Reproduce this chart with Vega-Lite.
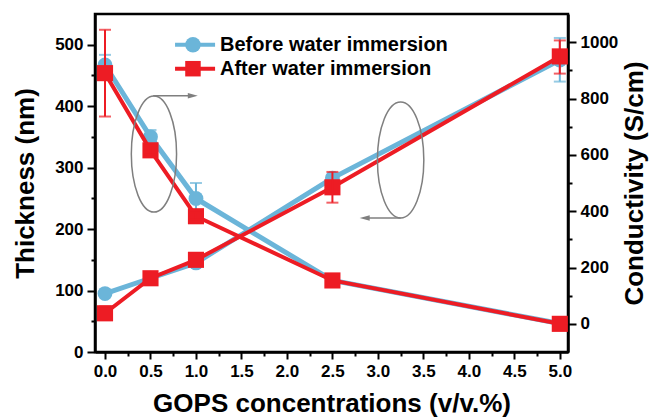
{
  "$schema": "https://vega.github.io/schema/vega-lite/v6.json",
  "width": 473,
  "height": 338,
  "autosize": {"type": "none"},
  "padding": {"left": 95, "top": 14, "right": 82, "bottom": 65},
  "background": "white",
  "config": {
    "view": {"stroke": "black", "strokeWidth": 2.5},
    "axis": {
      "grid": false,
      "domainColor": "black",
      "domainWidth": 2.5,
      "tickColor": "black",
      "tickWidth": 2,
      "labelFont": "Liberation Sans",
      "labelFontWeight": "bold",
      "labelFontSize": 17,
      "labelColor": "black",
      "titleFont": "Liberation Sans",
      "titleFontWeight": "bold",
      "titleFontSize": 26,
      "titleColor": "black"
    }
  },
  "data": {
    "values": [
      {"q": "T", "s": "B", "x": 0, "v": 95, "lo": null, "hi": null},
      {"q": "T", "s": "B", "x": 0.5, "v": 120, "lo": null, "hi": null},
      {"q": "T", "s": "B", "x": 1, "v": 145, "lo": null, "hi": null},
      {"q": "T", "s": "B", "x": 2.5, "v": 283, "lo": null, "hi": null},
      {"q": "T", "s": "B", "x": 5, "v": 475, "lo": 440, "hi": 511},
      {"q": "T", "s": "A", "x": 0, "v": 63, "lo": 52, "hi": 74},
      {"q": "T", "s": "A", "x": 0.5, "v": 120, "lo": null, "hi": null},
      {"q": "T", "s": "A", "x": 1, "v": 150, "lo": null, "hi": null},
      {"q": "T", "s": "A", "x": 2.5, "v": 268, "lo": 243, "hi": 293},
      {"q": "T", "s": "A", "x": 5, "v": 481, "lo": 453, "hi": 507},
      {"q": "C", "s": "B", "x": 0, "v": 919, "lo": 883, "hi": 955},
      {"q": "C", "s": "B", "x": 0.5, "v": 664, "lo": 640, "hi": 688},
      {"q": "C", "s": "B", "x": 1, "v": 445, "lo": 390, "hi": 500},
      {"q": "C", "s": "B", "x": 2.5, "v": 154, "lo": null, "hi": null},
      {"q": "C", "s": "B", "x": 5, "v": 1, "lo": null, "hi": null},
      {"q": "C", "s": "A", "x": 0, "v": 890, "lo": 736, "hi": 1044},
      {"q": "C", "s": "A", "x": 0.5, "v": 616, "lo": 600, "hi": 632},
      {"q": "C", "s": "A", "x": 1, "v": 382, "lo": 370, "hi": 394},
      {"q": "C", "s": "A", "x": 2.5, "v": 154, "lo": null, "hi": null},
      {"q": "C", "s": "A", "x": 5, "v": 0, "lo": null, "hi": null}
    ]
  },
  "encoding": {
    "x": {
      "field": "x",
      "type": "quantitative",
      "scale": {"domain": [-0.11, 5.09]},
      "axis": {
        "title": "GOPS concentrations (v/v.%)",
        "values": [0, 0.25, 0.5, 0.75, 1, 1.25, 1.5, 1.75, 2, 2.25, 2.5, 2.75, 3, 3.25, 3.5, 3.75, 4, 4.25, 4.5, 4.75, 5],
        "labelExpr": "(datum.value * 2) % 1 === 0 ? format(datum.value, '.1f') : ''",
        "tickSize": {"condition": {"test": "(datum.value * 2) % 1 === 0", "value": 7}, "value": 4},
        "labelPadding": 4,
        "labelFlush": false,
        "labelOverlap": false,
        "titlePadding": 11
      }
    }
  },
  "layer": [
    {
      "transform": [{"filter": "datum.q === 'T' && datum.s === 'B' && datum.lo != null"}],
      "mark": {"type": "rule", "color": "#6BB5D9", "strokeWidth": 2},
      "encoding": {
        "y": {"field": "lo", "type": "quantitative", "scale": {"domain": [0, 550]}, "axis": null},
        "y2": {"field": "hi"}
      }
    },
    {
      "transform": [{"filter": "datum.q === 'T' && datum.s === 'B' && datum.lo != null"}, {"fold": ["lo", "hi"], "as": ["k", "e"]}],
      "mark": {"type": "tick", "orient": "horizontal", "color": "#6BB5D9", "thickness": 2, "size": 12},
      "encoding": {
        "y": {"field": "e", "type": "quantitative", "scale": {"domain": [0, 550]}, "axis": null}
      }
    },
    {
      "transform": [{"filter": "datum.q === 'T' && datum.s === 'B'"}],
      "mark": {"type": "line", "color": "#6BB5D9", "strokeWidth": 5},
      "encoding": {
        "y": {
          "field": "v",
          "type": "quantitative",
          "scale": {"domain": [0, 550]},
          "axis": {
            "orient": "left",
            "title": "Thickness (nm)",
            "values": [0, 50, 100, 150, 200, 250, 300, 350, 400, 450, 500],
            "labelExpr": "datum.value % 100 === 0 ? datum.label : ''",
            "tickSize": {"condition": {"test": "datum.value % 100 === 0", "value": 8}, "value": 4},
            "labelPadding": 4,
            "titlePadding": 16
          }
        }
      }
    },
    {
      "transform": [{"filter": "datum.q === 'T' && datum.s === 'B'"}],
      "mark": {"type": "point", "shape": "circle", "filled": true, "opacity": 1, "color": "#6BB5D9", "size": 220},
      "encoding": {
        "y": {"field": "v", "type": "quantitative", "scale": {"domain": [0, 550]}, "axis": null}
      }
    },
    {
      "transform": [{"filter": "datum.q === 'C' && datum.s === 'B' && datum.lo != null"}],
      "mark": {"type": "rule", "color": "#6BB5D9", "strokeWidth": 2},
      "encoding": {
        "y": {"field": "lo", "type": "quantitative", "scale": {"domain": [-100, 1100]}, "axis": null},
        "y2": {"field": "hi"}
      }
    },
    {
      "transform": [{"filter": "datum.q === 'C' && datum.s === 'B' && datum.lo != null"}, {"fold": ["lo", "hi"], "as": ["k", "e"]}],
      "mark": {"type": "tick", "orient": "horizontal", "color": "#6BB5D9", "thickness": 2, "size": 12},
      "encoding": {
        "y": {"field": "e", "type": "quantitative", "scale": {"domain": [-100, 1100]}, "axis": null}
      }
    },
    {
      "transform": [{"filter": "datum.q === 'C' && datum.s === 'B'"}],
      "mark": {"type": "line", "color": "#6BB5D9", "strokeWidth": 5},
      "encoding": {
        "y": {
          "field": "v",
          "type": "quantitative",
          "scale": {"domain": [-100, 1100]},
          "axis": {
            "orient": "right",
            "title": "Conductivity (S/cm)",
            "titleAngle": 270,
            "titleBaseline": "top",
            "format": "d",
            "values": [0, 100, 200, 300, 400, 500, 600, 700, 800, 900, 1000],
            "labelExpr": "datum.value % 200 === 0 ? datum.label : ''",
            "tickSize": {"condition": {"test": "datum.value % 200 === 0", "value": 8}, "value": 4},
            "labelPadding": 4,
            "titlePadding": 4
          }
        }
      }
    },
    {
      "transform": [{"filter": "datum.q === 'C' && datum.s === 'B'"}],
      "mark": {"type": "point", "shape": "circle", "filled": true, "opacity": 1, "color": "#6BB5D9", "size": 220},
      "encoding": {
        "y": {"field": "v", "type": "quantitative", "scale": {"domain": [-100, 1100]}, "axis": null}
      }
    },
    {
      "transform": [{"filter": "datum.q === 'T' && datum.s === 'A'"}],
      "mark": {"type": "line", "color": "#ED1C24", "strokeWidth": 4},
      "encoding": {
        "y": {"field": "v", "type": "quantitative", "scale": {"domain": [0, 550]}, "axis": null}
      }
    },
    {
      "transform": [{"filter": "datum.q === 'T' && datum.s === 'A'"}],
      "mark": {"type": "point", "shape": "square", "filled": true, "opacity": 1, "color": "#ED1C24", "size": 260},
      "encoding": {
        "y": {"field": "v", "type": "quantitative", "scale": {"domain": [0, 550]}, "axis": null}
      }
    },
    {
      "transform": [{"filter": "datum.q === 'T' && datum.s === 'A' && datum.lo != null"}],
      "mark": {"type": "rule", "color": "#ED1C24", "strokeWidth": 2},
      "encoding": {
        "y": {"field": "lo", "type": "quantitative", "scale": {"domain": [0, 550]}, "axis": null},
        "y2": {"field": "hi"}
      }
    },
    {
      "transform": [{"filter": "datum.q === 'T' && datum.s === 'A' && datum.lo != null"}, {"fold": ["lo", "hi"], "as": ["k", "e"]}],
      "mark": {"type": "tick", "orient": "horizontal", "color": "#ED1C24", "thickness": 2, "size": 12},
      "encoding": {
        "y": {"field": "e", "type": "quantitative", "scale": {"domain": [0, 550]}, "axis": null}
      }
    },
    {
      "transform": [{"filter": "datum.q === 'C' && datum.s === 'A'"}],
      "mark": {"type": "line", "color": "#ED1C24", "strokeWidth": 4},
      "encoding": {
        "y": {"field": "v", "type": "quantitative", "scale": {"domain": [-100, 1100]}, "axis": null}
      }
    },
    {
      "transform": [{"filter": "datum.q === 'C' && datum.s === 'A'"}],
      "mark": {"type": "point", "shape": "square", "filled": true, "opacity": 1, "color": "#ED1C24", "size": 260},
      "encoding": {
        "y": {"field": "v", "type": "quantitative", "scale": {"domain": [-100, 1100]}, "axis": null}
      }
    },
    {
      "transform": [{"filter": "datum.q === 'C' && datum.s === 'A' && datum.lo != null"}],
      "mark": {"type": "rule", "color": "#ED1C24", "strokeWidth": 2},
      "encoding": {
        "y": {"field": "lo", "type": "quantitative", "scale": {"domain": [-100, 1100]}, "axis": null},
        "y2": {"field": "hi"}
      }
    },
    {
      "transform": [{"filter": "datum.q === 'C' && datum.s === 'A' && datum.lo != null"}, {"fold": ["lo", "hi"], "as": ["k", "e"]}],
      "mark": {"type": "tick", "orient": "horizontal", "color": "#ED1C24", "thickness": 2, "size": 12},
      "encoding": {
        "y": {"field": "e", "type": "quantitative", "scale": {"domain": [-100, 1100]}, "axis": null}
      }
    },
    {
      "data": {"values": [{"x": 0.538, "v": 322, "w": "a"}, {"x": 3.25, "v": 312.5, "w": "b"}]},
      "mark": {"type": "point", "filled": false, "stroke": "#7F7F7F", "strokeWidth": 1.5, "opacity": 1, "size": 13456},
      "encoding": {
        "y": {"field": "v", "type": "quantitative", "scale": {"domain": [0, 550]}, "axis": null},
        "shape": {"field": "w", "type": "nominal", "scale": {"domain": ["a", "b"], "range": ["M0,-1A0.39,1,0,1,1,0,1A0.39,1,0,1,1,0,-1Z", "M0,-1A0.4,1,0,1,1,0,1A0.4,1,0,1,1,0,-1Z"]}, "legend": null}
      }
    },
    {
      "data": {"values": [{"x": 0.53, "x2": 0.965, "v": 417}, {"x": 3.25, "x2": 2.855, "v": 218}]},
      "mark": {"type": "rule", "color": "#7F7F7F", "strokeWidth": 1.5},
      "encoding": {
        "x2": {"field": "x2"},
        "y": {"field": "v", "type": "quantitative", "scale": {"domain": [0, 550]}, "axis": null}
      }
    },
    {
      "data": {"values": [{"x": 0.965, "v": 417, "dir": "r"}, {"x": 2.855, "v": 218, "dir": "l"}]},
      "mark": {"type": "point", "filled": true, "color": "#7F7F7F", "opacity": 1, "size": 100},
      "encoding": {
        "y": {"field": "v", "type": "quantitative", "scale": {"domain": [0, 550]}, "axis": null},
        "shape": {"field": "dir", "type": "nominal", "scale": {"domain": ["r", "l"], "range": ["M1,0L-1,-0.55L-1,0.55Z", "M-1,0L1,-0.55L1,0.55Z"]}, "legend": null}
      }
    },
    {
      "data": {"values": [{"x": 0.77, "x2": 1.21, "v": 500, "s": "B"}, {"x": 0.77, "x2": 1.21, "v": 461, "s": "A"}]},
      "mark": {"type": "rule", "strokeWidth": 4},
      "encoding": {
        "x2": {"field": "x2"},
        "y": {"field": "v", "type": "quantitative", "scale": {"domain": [0, 550]}, "axis": null},
        "color": {"field": "s", "type": "nominal", "scale": {"domain": ["B", "A"], "range": ["#6BB5D9", "#ED1C24"]}, "legend": null}
      }
    },
    {
      "data": {"values": [{"x": 0.967, "v": 500, "s": "B"}, {"x": 0.967, "v": 461, "s": "A"}]},
      "mark": {"type": "point", "filled": true, "opacity": 1, "size": 240},
      "encoding": {
        "y": {"field": "v", "type": "quantitative", "scale": {"domain": [0, 550]}, "axis": null},
        "color": {"field": "s", "type": "nominal", "scale": {"domain": ["B", "A"], "range": ["#6BB5D9", "#ED1C24"]}, "legend": null},
        "shape": {"field": "s", "type": "nominal", "scale": {"domain": ["B", "A"], "range": ["circle", "square"]}, "legend": null}
      }
    },
    {
      "data": {"values": [{"x": 1.264, "v": 500, "t": "Before water immersion"}, {"x": 1.264, "v": 461, "t": "After water immersion"}]},
      "mark": {"type": "text", "align": "left", "baseline": "middle", "font": "Liberation Sans", "fontWeight": "bold", "fontSize": 20, "color": "black"},
      "encoding": {
        "y": {"field": "v", "type": "quantitative", "scale": {"domain": [0, 550]}, "axis": null},
        "text": {"field": "t"}
      }
    }
  ],
  "resolve": {"scale": {"y": "independent", "color": "independent", "shape": "independent"}}
}
